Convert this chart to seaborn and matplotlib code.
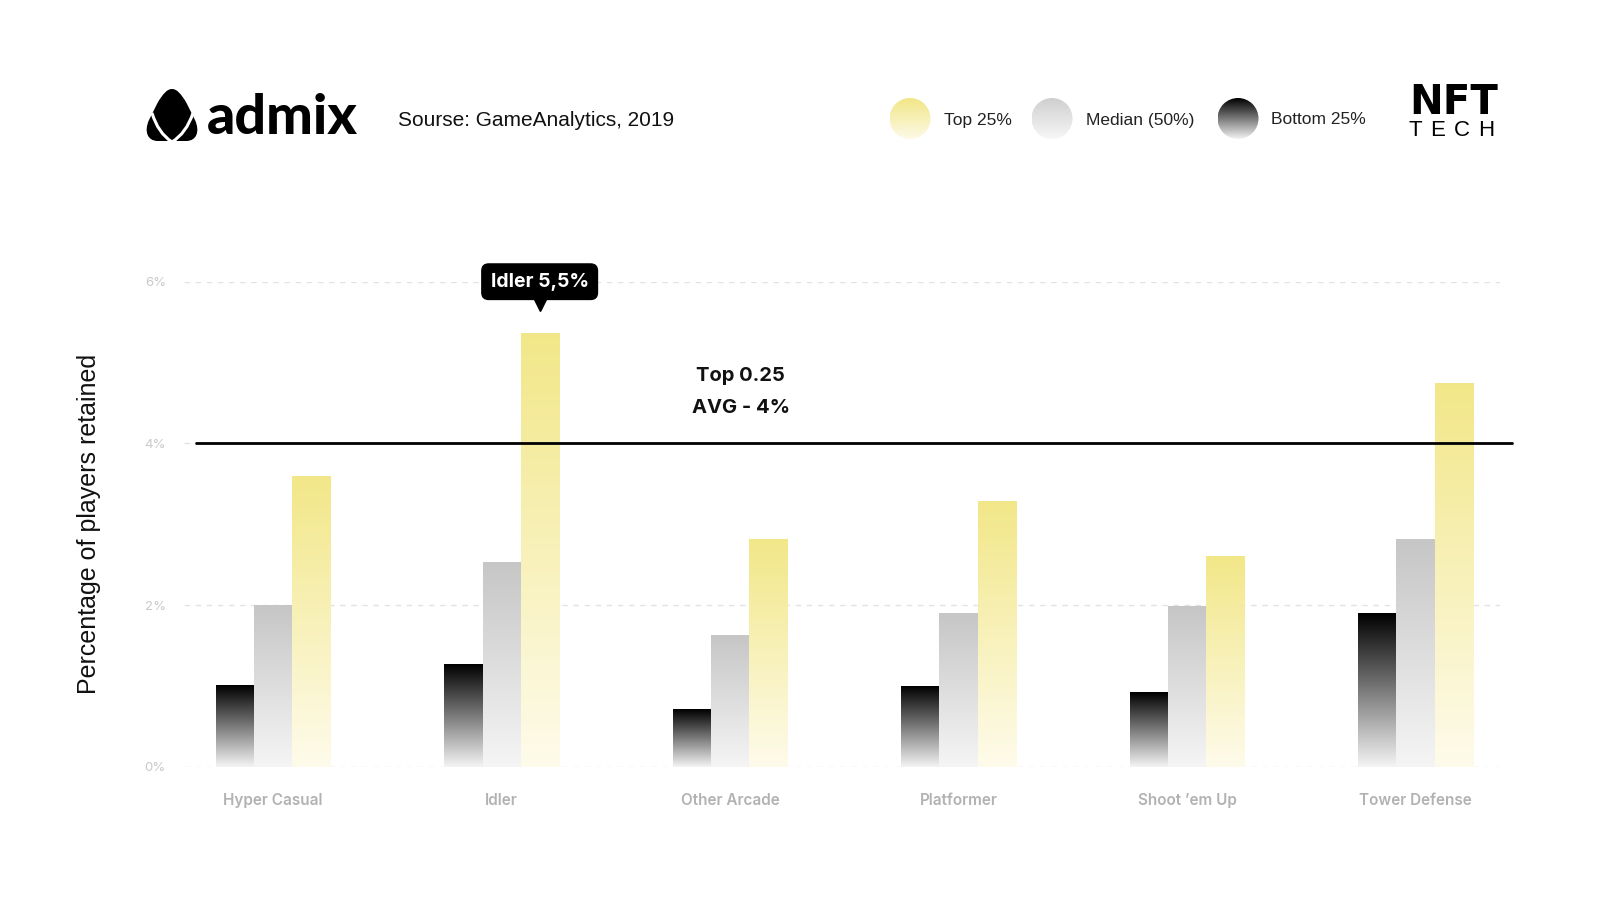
import numpy as np
import pandas as pd
import matplotlib
matplotlib.use("Agg")
import matplotlib.pyplot as plt
import seaborn as sns
from matplotlib.patches import Circle, PathPatch
from matplotlib.path import Path
from matplotlib.colors import to_rgba
import matplotlib.transforms as mtransforms

# ---------------- data ----------------
genres = ["Hyper Casual", "Idler", "Other Arcade", "Platformer", "Shoot ’em Up", "Tower Defense"]
bottom_25 = [1.01, 1.27, 0.71, 0.99, 0.92, 1.90]
median_50 = [2.00, 2.53, 1.63, 1.90, 1.98, 2.81]
top_25 = [3.60, 5.36, 2.82, 3.29, 2.61, 4.75]
series_names = ["Bottom 25%", "Median (50%)", "Top 25%"]
yticks = [0, 2, 4, 6]
ytick_labels = ["0%", "2%", "4%", "6%"]
avg_top = 4.0
avg_text = ["Top 0.25", "AVG - 4%"]
callout_text = "Idler 5,5%"
callout_genre = "Idler"
source_text = "Sourse: GameAnalytics, 2019"
ylabel_text = "Percentage of players retained"

df = pd.DataFrame({
    "genre": genres * 3,
    "series": [series_names[0]] * 6 + [series_names[1]] * 6 + [series_names[2]] * 6,
    "value": bottom_25 + median_50 + top_25,
})

# gradient colours (top of bar -> bottom of bar)
grad = {
    "Bottom 25%": ("#000000", "#f4f4f4"),
    "Median (50%)": ("#c6c6c6", "#f5f5f5"),
    "Top 25%": ("#f2e788", "#fefbeb"),
}
legend_grad = {
    "Top 25%": ("#f1e686", "#fdfae8"),
    "Median (50%)": ("#cfcfcf", "#f7f7f7"),
    "Bottom 25%": ("#000000", "#f3f3f3"),
}


def gradient_array(top, bottom, n=256):
    t = np.linspace(0, 1, n)[:, None]
    c0 = np.array(to_rgba(top))
    c1 = np.array(to_rgba(bottom))
    arr = c0 * (1 - t) + c1 * t
    return arr[:, None, :]


sns.set_theme(style="white")
plt.rcParams["font.family"] = ["Inter", "DejaVu Sans"]

fig = plt.figure(figsize=(16, 9), dpi=100)
fig.patch.set_facecolor("white")
ax = fig.add_axes([184 / 1600, 1 - 766.7 / 900, 1316 / 1600, 485 / 900])

palette = {k: v[0] for k, v in grad.items()}
sns.barplot(data=df, x="genre", y="value", hue="series", order=genres,
            hue_order=series_names, palette=palette, width=0.5, saturation=1,
            legend=False, ax=ax, errorbar=None)

xlim = (-0.39, 5.37)
ylim = (0, 6)

for cont, name in zip(ax.containers, series_names):
    top_c, bot_c = grad[name]
    for bar in cont:
        x0 = bar.get_x()
        w = bar.get_width()
        h = bar.get_height()
        bar.set_visible(False)
        ax.imshow(gradient_array(top_c, bot_c), extent=(x0, x0 + w, 0, h),
                  origin="upper", aspect="auto", zorder=2, interpolation="bilinear")

ax.set_xlim(*xlim)
ax.set_ylim(*ylim)

# grid / axes styling
ax.set_yticks(yticks)
ax.set_yticklabels(ytick_labels)
ax.yaxis.grid(True, linestyle=(0, (4, 4)), color="#e2e2e2", linewidth=1)
ax.xaxis.grid(False)
ax.set_axisbelow(True)
for s in ax.spines.values():
    s.set_visible(False)
ax.tick_params(axis="y", length=0, pad=13, labelsize=9.5, labelcolor="#c9c9c9")
ax.tick_params(axis="x", length=0, pad=19, labelsize=11, labelcolor="#b2b2b2")
for lab in ax.get_xticklabels():
    lab.set_fontweight("semibold")
ax.set_xlabel("")
ax.set_ylabel(ylabel_text, fontsize=18, color="#111111",
              family=["Liberation Sans", "DejaVu Sans"])
ax.yaxis.set_label_coords(-0.063, 0.5)
ax.set_facecolor("white")

# average line
ax.axhline(avg_top, xmin=0.009, xmax=1.009, color="black", linewidth=2,
           clip_on=False, zorder=6)
blend = mtransforms.blended_transform_factory(ax.transAxes, ax.transData)
ax.text(0.423, 4.83, avg_text[0], transform=blend, ha="center", va="center",
        fontsize=14.5, fontweight="bold", color="#111111")
ax.text(0.423, 4.44, avg_text[1], transform=blend, ha="center", va="center",
        fontsize=14.5, fontweight="bold", color="#111111")

# callout for Idler top bar
idx = genres.index(callout_genre)
tb = ax.containers[series_names.index("Top 25%")][idx]
cx = tb.get_x() + tb.get_width() / 2
ax.text(cx, 6.0, callout_text, ha="center", va="center", fontsize=14,
        fontweight="bold", color="white", zorder=8,
        bbox=dict(boxstyle="round,pad=0.45,rounding_size=0.35", fc="black", ec="black"))
ax.plot([cx], [5.72], marker="v", markersize=10, color="black", clip_on=False, zorder=8)

# ---------------- header overlay (pixel coordinates) ----------------
oax = fig.add_axes([0, 0, 1, 1], zorder=10)
oax.set_xlim(0, 1600)
oax.set_ylim(900, 0)
oax.axis("off")
oax.patch.set_alpha(0)

# admix logo mark
verts = [
    (172, 89),
    (177, 89), (181, 94), (186, 102),
    (195, 120),
    (200, 131), (197, 141), (186, 141),
    (158, 141),
    (147, 141), (144, 131), (149, 120),
    (158, 102),
    (163, 94), (167, 89), (172, 89),
    (172, 89),
]
codes = [Path.MOVETO,
         Path.CURVE4, Path.CURVE4, Path.CURVE4,
         Path.LINETO,
         Path.CURVE4, Path.CURVE4, Path.CURVE4,
         Path.LINETO,
         Path.CURVE4, Path.CURVE4, Path.CURVE4,
         Path.LINETO,
         Path.CURVE4, Path.CURVE4, Path.CURVE4,
         Path.CLOSEPOLY]
oax.add_patch(PathPatch(Path(verts, codes), fc="black", ec="none"))
for sx in (152, 193):
    p = Path([(sx, 113), ((sx + 172) / 2 + (-4 if sx < 172 else 4), 133), (172, 142)],
             [Path.MOVETO, Path.CURVE3, Path.CURVE3])
    oax.add_patch(PathPatch(p, fc="none", ec="white", lw=2.2))

oax.text(207, 134, "admix", ha="left", va="baseline", fontsize=40,
         fontweight="black", family=["Lato", "DejaVu Sans"], color="black")
oax.text(398, 120, source_text, ha="left", va="center", fontsize=15,
         family=["Liberation Sans", "DejaVu Sans"], color="#111111")

# legend circles
legend_items = [("Top 25%", 910, 944), ("Median (50%)", 1052, 1086), ("Bottom 25%", 1238, 1271)]
cy, r = 118.5, 20.5
for name, cxp, tx in legend_items:
    top_c, bot_c = legend_grad[name]
    im = oax.imshow(gradient_array(top_c, bot_c), extent=(cxp - r, cxp + r, cy + r, cy - r),
                    origin="upper", aspect="auto", interpolation="bilinear")
    circ = Circle((cxp, cy), r, transform=oax.transData, fc="none", ec="none")
    oax.add_patch(circ)
    im.set_clip_path(circ)
    oax.text(tx, cy + 1.5, name, ha="left", va="center", fontsize=12.5,
             family=["Liberation Sans", "DejaVu Sans"], color="#222222")

# NFT TECH logo
oax.text(1454, 114, "NFT", ha="center", va="baseline", fontsize=29, fontweight="bold",
         family=["DejaVu Sans"], color="black")
for letter, lx in zip("TECH", [1415, 1438, 1462, 1486]):
    oax.text(lx, 136, letter, ha="center", va="baseline", fontsize=16,
             family=["Liberation Sans", "DejaVu Sans"], color="black")

oax.set_xlim(0, 1600)
oax.set_ylim(900, 0)

fig.savefig("out.png", dpi=100, facecolor="white")
